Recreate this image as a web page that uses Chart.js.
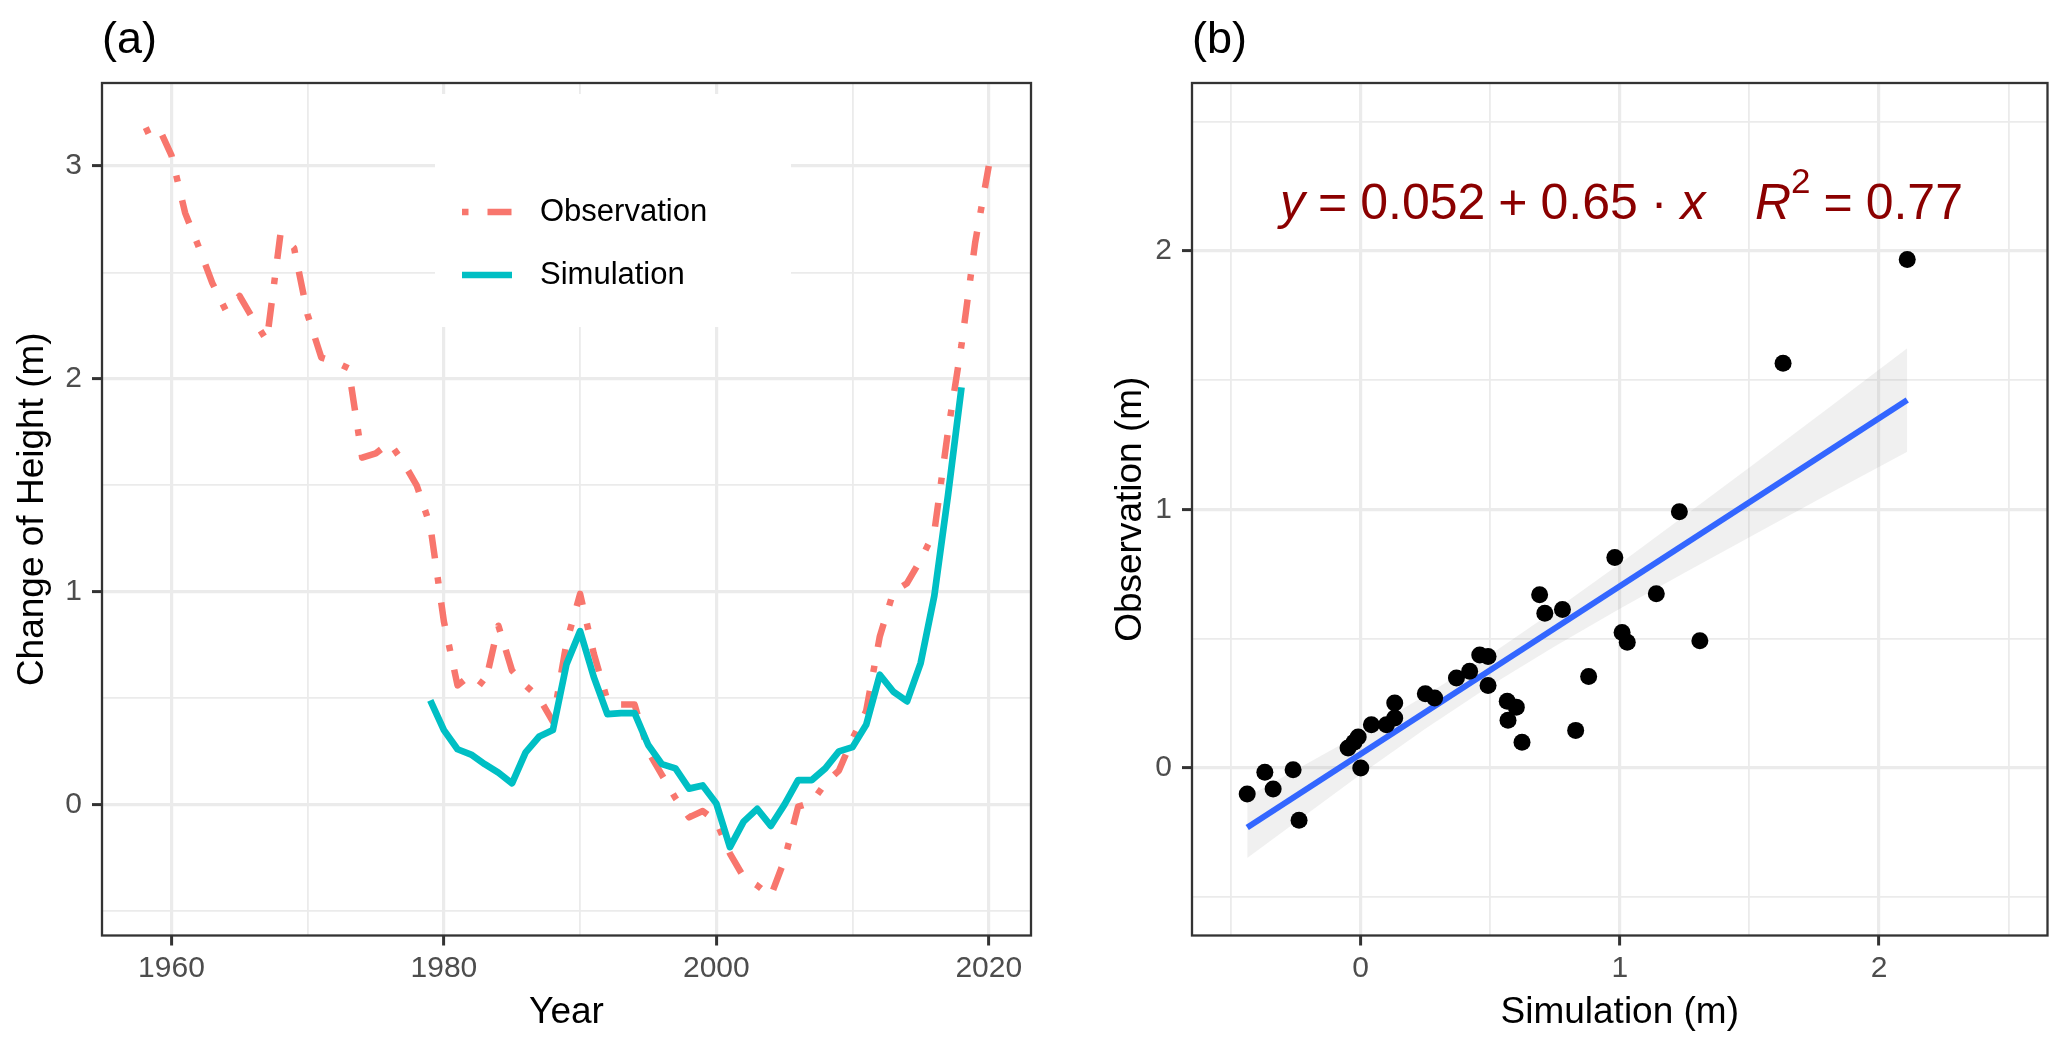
<!DOCTYPE html>
<html>
<head>
<meta charset="utf-8">
<title>Change of height: observation vs simulation</title>
<script src="https://cdn.jsdelivr.net/npm/chart.js@4.4.1/dist/chart.umd.min.js"></script>
<style>
  html, body { margin: 0; padding: 0; background: #fff; }
  #wrap { position: relative; width: 2067px; height: 1050px; overflow: hidden; }
  canvas { position: absolute; top: 0; }
  #panelA { left: 0; }
  #panelB { left: 1050px; }
</style>
</head>
<body>
<div id="wrap">
  <canvas id="panelA" width="1050" height="1050"></canvas>
  <canvas id="panelB" width="1017" height="1050"></canvas>
</div>
<script>
// ---- panel (a): time series ----
const obsYears = [1958, 1959, 1960, 1961, 1962, 1963, 1964, 1965, 1966, 1967,
  1968, 1969, 1970, 1971, 1972, 1973, 1974, 1975, 1976, 1977,
  1978, 1979, 1980, 1981, 1982, 1983, 1984, 1985, 1986, 1987,
  1988, 1989, 1990, 1991, 1992, 1993, 1994, 1995, 1996, 1997,
  1998, 1999, 2000, 2001, 2002, 2003, 2004, 2005, 2006, 2007,
  2008, 2009, 2010, 2011, 2012, 2013, 2014, 2015, 2016, 2017,
  2018, 2019, 2020];
const obsHeight = [3.16, 3.19, 3.05, 2.78, 2.62, 2.45, 2.32, 2.39, 2.28, 2.18,
  2.68, 2.615, 2.30, 2.10, 2.08, 2.05, 1.63, 1.65, 1.70, 1.61,
  1.50, 1.31, 0.86, 0.56, 0.61, 0.56, 0.84, 0.63, 0.56, 0.50,
  0.39, 0.76, 0.99, 0.71, 0.49, 0.47, 0.47, 0.25, 0.14, 0.03,
  -0.06, -0.03, -0.08, -0.23, -0.34, -0.38, -0.43, -0.26, -0.01, 0.01,
  0.10, 0.16, 0.31, 0.44, 0.79, 1.00, 1.04, 1.15, 1.28, 1.75,
  2.16, 2.64, 3.00];

const simYears = [1979, 1980, 1981, 1982, 1983, 1984, 1985, 1986, 1987, 1988,
  1989, 1990, 1991, 1992, 1993, 1994, 1995, 1996, 1997, 1998,
  1999, 2000, 2001, 2002, 2003, 2004, 2005, 2006, 2007, 2008,
  2009, 2010, 2011, 2012, 2013, 2014, 2015, 2016, 2017, 2018];
const simHeight = [0.49, 0.35, 0.26, 0.235, 0.19, 0.15, 0.10, 0.245, 0.32, 0.35,
  0.66, 0.815, 0.60, 0.425, 0.43, 0.43, 0.28, 0.19, 0.17, 0.075,
  0.09, 0.005, -0.20, -0.08, -0.02, -0.10, 0.00, 0.115, 0.115, 0.17,
  0.25, 0.27, 0.375, 0.61, 0.53, 0.485, 0.665, 0.98, 1.45, 1.96];

const yearTicks = [1960, 1980, 2000, 2020];
const yearMinor = [1970, 1990, 2010];
const heightTicks = [0, 1, 2, 3];
const heightMinor = [-0.5, 0.5, 1.5, 2.5];

// ---- panel (b): scatter with linear fit ----
const scatterSim = [2.109, 1.630, 1.230, 0.981, 1.141, 0.691, 0.711, 0.779, 1.009, 1.029,
  1.309, 0.880, 0.830, 0.623, 0.566, 0.601, 0.569, 0.460, 0.492, 0.492,
  0.421, 0.370, 0.250, 0.286, 0.132, 0.132, 0.100, 0.042, -0.009, -0.048,
  -0.025, 0.001, -0.369, -0.260, -0.337, -0.437, -0.237];
const scatterObs = [1.967, 1.565, 0.990, 0.813, 0.673, 0.669, 0.597, 0.612, 0.523, 0.485,
  0.491, 0.353, 0.144, 0.098, 0.257, 0.234, 0.183, 0.436, 0.430, 0.318,
  0.373, 0.347, 0.286, 0.269, 0.250, 0.192, 0.166, 0.166, 0.118, 0.076,
  0.098, -0.002, -0.018, -0.008, -0.083, -0.102, -0.204];

const fitIntercept = 0.052;
const fitSlope = 0.65;
const fitR2 = 0.77;
const fitRange = [-0.437, 2.109];

const bandX    = [-0.437, 0, 0.25, 0.5, 0.75, 1, 1.25, 1.5, 1.8, 2.109];
const bandLow  = [-0.350, -0.027, 0.150, 0.317, 0.470, 0.615, 0.754, 0.892, 1.056, 1.223];
const bandHigh = [-0.114, 0.131, 0.279, 0.437, 0.609, 0.789, 0.975, 1.162, 1.388, 1.623];

const scatterTicks = [0, 1, 2];
const scatterMinor = [-0.5, 0.5, 1.5, 2.5];

// ---- shared look ----
const FONT = '"Liberation Sans", Arial, Helvetica, sans-serif';
Chart.defaults.font.family = FONT;
Chart.defaults.color = '#000';

function axis(o) {
  const all = o.major.concat(o.minor).sort((a, b) => a - b);
  const isMajor = v => o.major.includes(v);
  return {
    type: 'linear',
    min: o.min,
    max: o.max,
    afterBuildTicks: s => { s.ticks = all.map(v => ({ value: v })); },
    afterFit: s => {
      if (s.isHorizontal()) s.height = o.size; else s.width = o.size;
    },
    ticks: {
      autoSkip: false,
      maxRotation: 0,
      color: '#4D4D4D',
      font: { size: 30 },
      padding: o.tickPad,
      callback: v => isMajor(v) ? String(v) : ''
    },
    grid: {
      color: '#EBEBEB',
      lineWidth: c => (c.tick && isMajor(c.tick.value)) ? 3.2 : 1.8,
      tickLength: 10,
      tickWidth: 3,
      tickColor: c => (c.tick && isMajor(c.tick.value)) ? '#333333' : 'rgba(0,0,0,0)'
    },
    border: { display: false },
    title: {
      display: true,
      text: o.title,
      color: '#000',
      font: { size: 37 },
      padding: o.titlePad
    }
  };
}

// panel frame drawn over the data, like ggplot's panel.border
const framePlugin = {
  id: 'frame',
  afterDatasetsDraw(chart) {
    const { ctx, chartArea: a } = chart;
    ctx.save();
    ctx.strokeStyle = '#333333';
    ctx.lineWidth = 2.3;
    ctx.strokeRect(a.left, a.top, a.right - a.left, a.bottom - a.top);
    ctx.restore();
  }
};

// "(a)" / "(b)" tags above the panels
const tagPlugin = {
  id: 'tag',
  afterDraw(chart, args, opts) {
    const { ctx, chartArea: a } = chart;
    ctx.save();
    ctx.font = '45px ' + FONT;
    ctx.fillStyle = '#000';
    ctx.textBaseline = 'alphabetic';
    ctx.fillText(opts.text, a.left, 53);
    ctx.restore();
  }
};

// legend sitting inside panel (a), white box hides the grid
const insetLegend = {
  id: 'insetLegend',
  beforeDatasetsDraw(chart) {
    const { ctx, chartArea: a } = chart;
    const bx = a.left + 333, by = a.top + 11, bw = 356, bh = 233;
    ctx.save();
    ctx.fillStyle = '#fff';
    ctx.fillRect(bx, by, bw, bh);
    const order = [1, 0]; // Observation first, then Simulation
    order.forEach((di, k) => {
      const ds = chart.data.datasets[di];
      const y = by + 118 + k * 63;
      ctx.beginPath();
      ctx.setLineDash(ds.borderDash || []);
      ctx.lineWidth = ds.borderWidth;
      ctx.strokeStyle = ds.borderColor;
      ctx.lineCap = 'butt';
      ctx.moveTo(bx + 27, y);
      ctx.lineTo(bx + 77, y);
      ctx.stroke();
      ctx.setLineDash([]);
      ctx.font = '31px ' + FONT;
      ctx.fillStyle = '#000';
      ctx.textBaseline = 'middle';
      ctx.fillText(ds.label, bx + 105, y);
    });
    ctx.restore();
  }
};

// regression equation in dark red, plotmath-like spacing
const equationPlugin = {
  id: 'equation',
  afterDatasetsDraw(chart) {
    const { ctx, chartArea: a } = chart;
    const size = 50, gap = 13;
    const parts = [
      { t: 'y', it: true }, { g: 1 }, { t: '=' }, { g: 1 }, { t: String(fitIntercept) },
      { g: 1 }, { t: '+' }, { g: 1 }, { t: String(fitSlope) }, { g: 1 }, { t: '\u00B7' },
      { g: 1 }, { t: 'x', it: true }, { g: 3.8 }, { t: 'R', it: true }, { t: '2', sup: true },
      { g: 1 }, { t: '=' }, { g: 1 }, { t: String(fitR2) }
    ];
    let x = a.left + 88;
    const base = a.top + 136;
    ctx.save();
    ctx.fillStyle = '#8B0000';
    ctx.textBaseline = 'alphabetic';
    parts.forEach(p => {
      if (p.g) { x += p.g * gap; return; }
      if (p.sup) {
        ctx.font = '35px ' + FONT;
        ctx.fillText(p.t, x, base - 26);
      } else {
        ctx.font = (p.it ? 'italic ' : '') + size + 'px ' + FONT;
        ctx.fillText(p.t, x, base);
      }
      x += ctx.measureText(p.t).width;
    });
    ctx.restore();
  }
};

// ---- chart (a) ----
new Chart(document.getElementById('panelA'), {
  type: 'line',
  data: {
    datasets: [
      {
        label: 'Simulation',
        data: simYears.map((yr, i) => ({ x: yr, y: simHeight[i] })),
        borderColor: '#00BFC4',
        borderWidth: 6.7,
        borderJoinStyle: 'round',
        pointRadius: 0,
        tension: 0
      },
      {
        label: 'Observation',
        data: obsYears.map((yr, i) => ({ x: yr, y: obsHeight[i] })),
        borderColor: '#F8766D',
        borderWidth: 6.5,
        borderDash: [6.5, 19, 24, 19],
        borderCapStyle: 'butt',
        borderJoinStyle: 'round',
        pointRadius: 0,
        tension: 0
      }
    ]
  },
  options: {
    responsive: false,
    animation: false,
    devicePixelRatio: 1,
    events: [],
    layout: { padding: { left: 0, top: 83, right: 19, bottom: 0 } },
    scales: {
      x: axis({ min: 1954.9, max: 2023.1, major: yearTicks, minor: yearMinor,
        size: 114.5, tickPad: 5, title: 'Year', titlePad: { top: 0, bottom: 15 } }),
      y: axis({ min: -0.615, max: 3.39, major: heightTicks, minor: heightMinor,
        size: 102, tickPad: 10, title: 'Change of Height (m)', titlePad: { top: 11, bottom: 0 } })
    },
    plugins: {
      legend: { display: false },
      tooltip: { enabled: false },
      tag: { text: '(a)' }
    }
  },
  plugins: [insetLegend, framePlugin, tagPlugin]
});

// ---- chart (b) ----
new Chart(document.getElementById('panelB'), {
  type: 'line',
  data: {
    datasets: [
      {
        label: 'points',
        data: scatterSim.map((v, i) => ({ x: v, y: scatterObs[i] })),
        showLine: false,
        pointRadius: 8.5,
        pointBackgroundColor: '#000',
        pointBorderWidth: 0
      },
      {
        label: 'fit',
        data: fitRange.map(v => ({ x: v, y: fitIntercept + fitSlope * v })),
        borderColor: '#3366FF',
        borderWidth: 6,
        pointRadius: 0
      },
      {
        label: 'upper',
        data: bandX.map((v, i) => ({ x: v, y: bandHigh[i] })),
        borderWidth: 0,
        pointRadius: 0,
        fill: '+1',
        backgroundColor: 'rgba(153,153,153,0.15)'
      },
      {
        label: 'lower',
        data: bandX.map((v, i) => ({ x: v, y: bandLow[i] })),
        borderWidth: 0,
        pointRadius: 0,
        fill: false
      }
    ]
  },
  options: {
    responsive: false,
    animation: false,
    devicePixelRatio: 1,
    events: [],
    layout: { padding: { left: 0, top: 83, right: 19.5, bottom: 0 } },
    scales: {
      x: axis({ min: -0.65, max: 2.65, major: scatterTicks, minor: scatterMinor,
        size: 114.5, tickPad: 5, title: 'Simulation (m)', titlePad: { top: 0, bottom: 15 } }),
      y: axis({ min: -0.65, max: 2.65, major: scatterTicks, minor: scatterMinor,
        size: 142, tickPad: 10, title: 'Observation (m)', titlePad: { top: 59, bottom: 0 } })
    },
    plugins: {
      legend: { display: false },
      tooltip: { enabled: false },
      tag: { text: '(b)' }
    }
  },
  plugins: [equationPlugin, framePlugin, tagPlugin]
});
</script>
</body>
</html>
